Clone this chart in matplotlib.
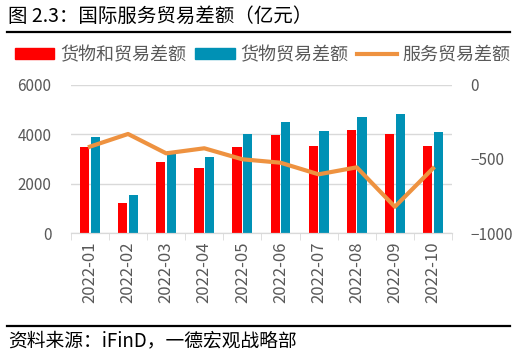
import matplotlib.pyplot as plt
import numpy as np
from matplotlib.lines import Line2D
from matplotlib.patches import Patch

plt.rcParams['font.family'] = ['Noto Sans CJK SC', 'DejaVu Sans']

months = ['2022-01', '2022-02', '2022-03', '2022-04', '2022-05',
          '2022-06', '2022-07', '2022-08', '2022-09', '2022-10']
goods_services = [3480, 1220, 2870, 2650, 3500, 3980, 3540, 4150, 4000, 3510]
goods = [3900, 1560, 3320, 3080, 4020, 4510, 4140, 4710, 4830, 4070]
services = [-417, -332, -462, -428, -502, -525, -603, -556, -821, -563]

red = '#FF0000'
blue = '#0091B5'
orange = '#EE9240'
grey = '#595959'

fig = plt.figure(figsize=(5.25, 3.63), dpi=100)
ax = fig.add_axes([0.135, 0.357, 0.726, 0.41])
ax2 = ax.twinx()

x = np.arange(len(months))
w = 0.24
ax.bar(x - 0.14, goods_services, width=w, color=red, zorder=2)
ax.bar(x + 0.14, goods, width=w, color=blue, zorder=2)
ax2.plot(x, services, color=orange, lw=3, zorder=3)

ax.set_xlim(-0.5, len(months) - 0.5)
ax.set_ylim(0, 6000)
ax.set_yticks([0, 2000, 4000, 6000])
ax2.set_ylim(-1000, 0)
ax2.set_yticks([-1000, -500, 0])
ax.grid(axis='y', color='#D9D9D9', lw=1, zorder=0)

ax.set_xticks(x)
ax.set_xticklabels(months, rotation=90, color=grey, fontsize=12)
ax.set_xticks(np.arange(-0.5, len(months)), minor=True)
ax.tick_params(axis='x', which='major', length=0, pad=6)
ax.tick_params(axis='x', which='minor', length=5, color='#D9D9D9')
ax.tick_params(axis='y', length=0, labelcolor=grey, labelsize=11, pad=14)
ax2.tick_params(axis='y', length=0, labelcolor=grey, labelsize=11, pad=13)

for a in (ax, ax2):
    for s in ('top', 'left', 'right'):
        a.spines[s].set_visible(False)
    a.spines['bottom'].set_color('#D9D9D9')

handles = [Patch(color=red), Patch(color=blue), Line2D([], [], color=orange, lw=3)]
labels = ['货物和贸易差额', '货物贸易差额', '服务贸易差额']
fig.legend(handles, labels, loc='center', bbox_to_anchor=(0.5, 0.848), ncol=3,
           frameon=False, fontsize=13, handlelength=2.2, handleheight=0.55,
           columnspacing=0.5, handletextpad=0.3, labelcolor=grey)

fig.text(0.015, 0.955, '图 2.3：国际服务贸易差额（亿元）', fontsize=14, va='center')
fig.add_artist(Line2D([0.013, 0.972], [0.912, 0.912], color='black', lw=1.6))
fig.add_artist(Line2D([0.013, 0.972], [0.103, 0.103], color='black', lw=1.6))
fig.text(0.015, 0.06, '资料来源：iFinD，一德宏观战略部', fontsize=13.5, va='center')

fig.savefig('out.png', dpi=100)
